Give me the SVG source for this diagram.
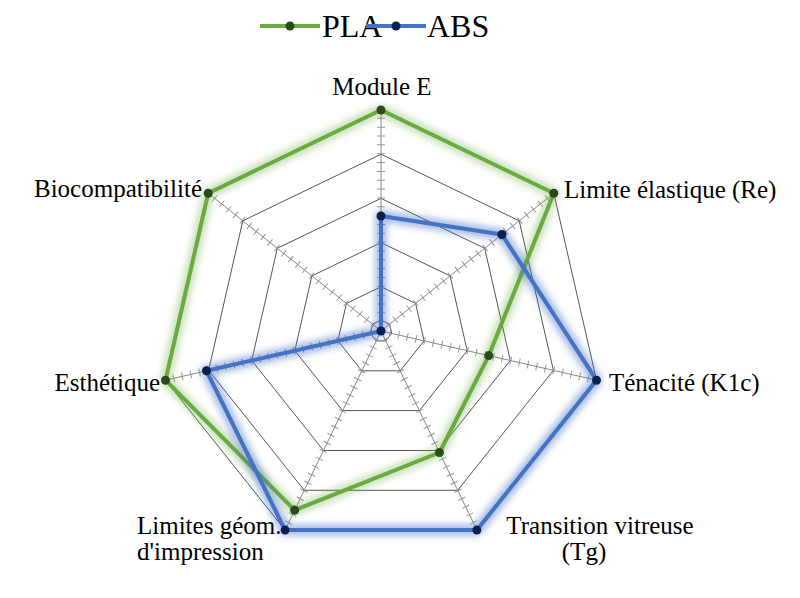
<svg xmlns="http://www.w3.org/2000/svg" width="800" height="598" viewBox="0 0 800 598">
<style>
text{font-family:"Liberation Serif",serif;font-size:25px;fill:#000}
.ring{fill:none;stroke:#555;stroke-width:1}
.tick{stroke:#999;stroke-width:8;stroke-dasharray:1 7.84}
.axis{stroke:#888;stroke-width:1}
.glowP{fill:none;stroke:#70ad47;stroke-opacity:0.35;stroke-width:12;stroke-linejoin:round;filter:url(#blur)}
.glowA{fill:none;stroke:#4472c4;stroke-opacity:0.45;stroke-width:12;stroke-linejoin:round;filter:url(#blur)}
.pla{fill:none;stroke:#6aab3f;stroke-width:4;stroke-linejoin:round}
.abs{fill:none;stroke:#4472c4;stroke-width:4;stroke-linejoin:round}
.dp{fill:#2b4a1c}.da{fill:#0b1f4f}
</style>
<defs>
<filter id="blur" x="-20%" y="-20%" width="140%" height="140%"><feGaussianBlur stdDeviation="3"/></filter>
</defs>
<g id="grid">
<polygon class="ring" points="381,110 553.8,193.2 596.5,380.2 476.9,530.1 285.1,530.1 165.5,380.2 208.2,193.2"/>
<polygon class="ring" points="381,154.2 519.2,220.8 553.4,370.3 457.7,490.3 304.3,490.3 208.6,370.3 242.8,220.8"/>
<polygon class="ring" points="381,198.4 484.7,248.3 510.3,360.5 438.5,450.5 323.5,450.5 251.7,360.5 277.3,248.3"/>
<polygon class="ring" points="381,242.6 450.1,275.9 467.2,350.7 419.4,410.6 342.6,410.6 294.8,350.7 311.9,275.9"/>
<polygon class="ring" points="381,286.8 415.6,303.4 424.1,340.8 400.2,370.8 361.8,370.8 337.9,340.8 346.4,303.4"/>
<polygon class="ring" points="381,320 389.6,324.1 391.7,333.4 385.8,340.9 376.2,340.9 370.3,333.4 372.4,324.1"/>
<g class="tick">
<line x1="381" y1="331" x2="381" y2="110"/>
<line x1="381" y1="331" x2="553.8" y2="193.2"/>
<line x1="381" y1="331" x2="596.5" y2="380.2"/>
<line x1="381" y1="331" x2="476.9" y2="530.1"/>
<line x1="381" y1="331" x2="285.1" y2="530.1"/>
<line x1="381" y1="331" x2="165.5" y2="380.2"/>
<line x1="381" y1="331" x2="208.2" y2="193.2"/>
</g>
<g class="axis">
<line x1="381" y1="331" x2="381" y2="110"/>
<line x1="381" y1="331" x2="553.8" y2="193.2"/>
<line x1="381" y1="331" x2="596.5" y2="380.2"/>
<line x1="381" y1="331" x2="476.9" y2="530.1"/>
<line x1="381" y1="331" x2="285.1" y2="530.1"/>
<line x1="381" y1="331" x2="165.5" y2="380.2"/>
<line x1="381" y1="331" x2="208.2" y2="193.2"/>
</g>
</g>
<g id="labels">
<text x="382" y="95" text-anchor="middle">Module E</text>
<text x="564" y="198">Limite élastique (Re)</text>
<text x="609" y="391">Ténacité (K1c)</text>
<text x="600" y="534" text-anchor="middle">Transition vitreuse</text>
<text x="584" y="560" text-anchor="middle">(Tg)</text>
<text x="137" y="534">Limites géom.</text>
<text x="137" y="560">d'impression</text>
<text x="160" y="391" text-anchor="end">Esthétique</text>
<text x="202" y="197" text-anchor="end">Biocompatibilité</text>
</g>
<g id="series-PLA">
<polygon class="glowP" points="381,110 553.8,193.2 488.8,355.6 439.5,452.5 294.7,510.2 165.5,380.2 208.2,193.2"/>
<polygon class="pla" points="381,110 553.8,193.2 488.8,355.6 439.5,452.5 294.7,510.2 165.5,380.2 208.2,193.2"/>
<g class="dp">
<circle cx="381" cy="110" r="4.5"/><circle cx="553.8" cy="193.2" r="4.5"/><circle cx="488.8" cy="355.6" r="4.5"/><circle cx="439.5" cy="452.5" r="4.5"/><circle cx="294.7" cy="510.2" r="4.5"/><circle cx="165.5" cy="380.2" r="4.5"/><circle cx="208.2" cy="193.2" r="4.5"/>
</g>
</g>
<g id="series-ABS">
<polygon class="glowA" points="381,216 501.9,234.5 596.5,380.2 476.9,530.1 285.1,530.1 206.5,370.8 381,331"/>
<polygon class="abs" points="381,216 501.9,234.5 596.5,380.2 476.9,530.1 285.1,530.1 206.5,370.8 381,331"/>
<g class="da">
<circle cx="381" cy="216" r="4.5"/><circle cx="501.9" cy="234.5" r="4.5"/><circle cx="596.5" cy="380.2" r="4.5"/><circle cx="476.9" cy="530.1" r="4.5"/><circle cx="285.1" cy="530.1" r="4.5"/><circle cx="206.5" cy="370.8" r="4.5"/><circle cx="381" cy="331" r="4.5"/>
</g>
</g>
<g id="legend">
<line x1="260" y1="26" x2="320" y2="26" class="pla"/><circle cx="290" cy="26" r="4.5" class="dp"/>
<text x="322" y="37" style="font-size:32px">PLA</text>
<line x1="366" y1="26" x2="426" y2="26" class="abs"/><circle cx="396" cy="26" r="4.5" class="da"/>
<text x="427" y="37" style="font-size:32px">ABS</text>
</g>
</svg>
